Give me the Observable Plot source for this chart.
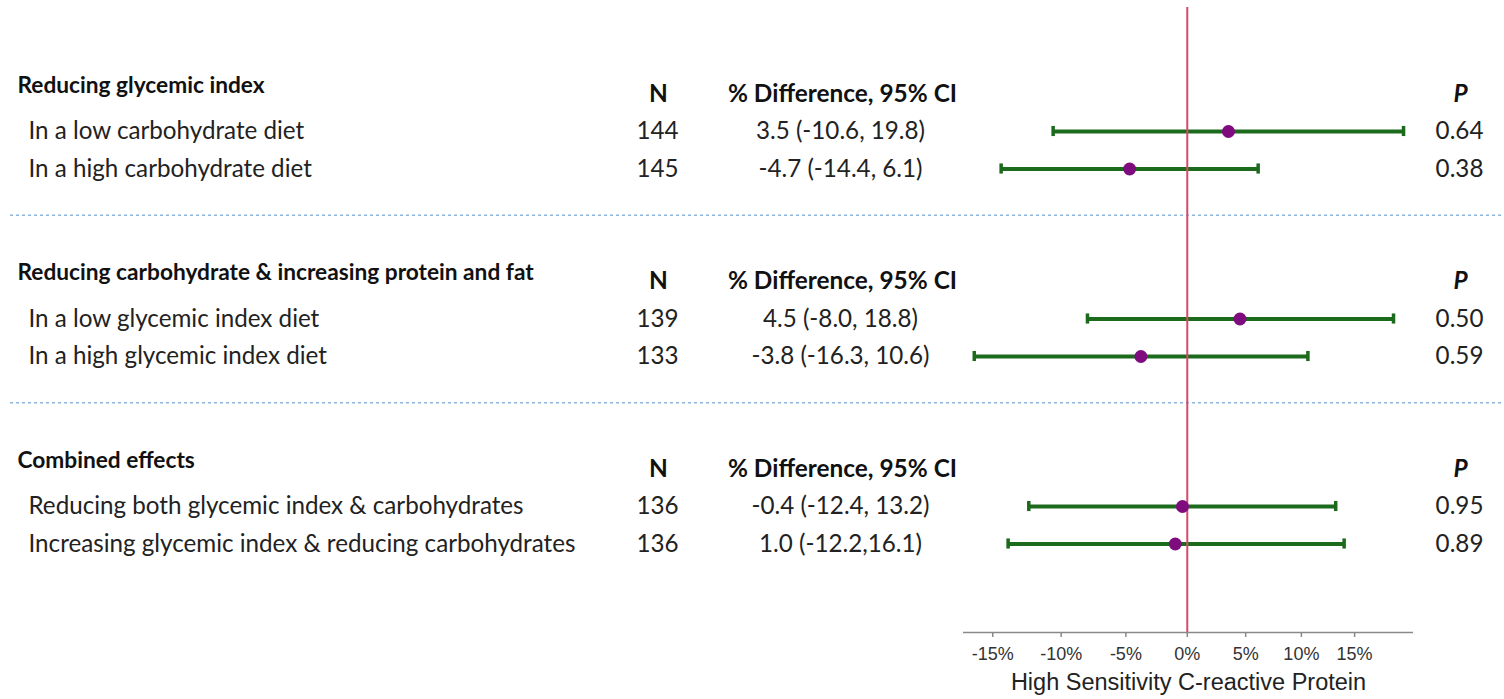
<!DOCTYPE html>
<html><head><meta charset="utf-8">
<script src="https://cdn.jsdelivr.net/npm/d3@7"></script>
<script src="https://cdn.jsdelivr.net/npm/@observablehq/plot@0.6"></script>
<style>html,body{margin:0;padding:0;background:#fff} svg{display:block}</style>
</head><body><div id="chart"></div>
<script>
// ---- data ----
const groupTitles = ["Reducing glycemic index", "Reducing carbohydrate & increasing protein and fat", "Combined effects"];
const rowLabels = [
  "In a low carbohydrate diet",
  "In a high carbohydrate diet",
  "In a low glycemic index diet",
  "In a high glycemic index diet",
  "Reducing both glycemic index & carbohydrates",
  "Increasing glycemic index & reducing carbohydrates"
];
const rowGroup = [0, 0, 1, 1, 2, 2];
const nValues = [144, 145, 139, 133, 136, 136];
const ciLabels = ["3.5 (-10.6, 19.8)", "-4.7 (-14.4, 6.1)", "4.5 (-8.0, 18.8)", "-3.8 (-16.3, 10.6)", "-0.4 (-12.4, 13.2)", "1.0 (-12.2,16.1)"];
const estimates = [3.5, -4.7, 4.5, -3.8, -0.4, -1.0];
const lowerCI = [-10.6, -14.4, -8.0, -16.3, -12.4, -13.9];
const upperCI = [19.8, 6.1, 18.8, 10.6, 13.2, 14.0];
const pValues = ["0.64", "0.38", "0.50", "0.59", "0.95", "0.89"];
const xTicks = [-15, -10, -5, 0, 5, 10, 15];
const xDomainPct = [-17.05, 20.8];
const headerN = "N", headerCI = "% Difference, 95% CI", headerP = "P";
const axisTitle = "High Sensitivity C-reactive Protein";

// ---- structure (line units) ----
const ratio = p => 1 + p / 100;
const seen = {};
const rows = rowLabels.map((label, i) => {
  const g = rowGroup[i];
  const k = (seen[g] = (seen[g] ?? -1) + 1);
  return {label, g, line: 5 * g + 1 + k, n: nValues[i], ci: ciLabels[i],
          est: estimates[i], lo: lowerCI[i], hi: upperCI[i], p: pValues[i]};
});
const groups = groupTitles.map((title, g) => ({title, g}));

const W = 1504, H = 699, mTop = 7, mBottom = 67, mLeft = 10;
const line0 = 93.5, lineH = 37.5;
const yDomain = [(mTop - line0) / lineH, (H - mBottom - line0) / lineH];
const xDomain = xDomainPct.map(ratio);

const bodyFont = "Lato, 'Open Sans', sans-serif";
const axisFont = "'Liberation Sans', Arial, sans-serif";
const green = "#1c6a1c", purple = "#7e0c7e", red = "#d44a6c";
const pctFormat = t => `${t}%`;
const cap = 0.135;

const chart = Plot.plot({
  width: W, height: H,
  marginTop: mTop, marginBottom: mBottom, marginLeft: mLeft, marginRight: 0,
  x: {type: "log", domain: xDomain, range: [963, 1413], axis: null},
  y: {domain: yDomain, reverse: true, axis: null},
  marks: [
    // separators
    Plot.ruleY(groups.slice(0, -1), {y: d => 5 * d.g + 3.23, stroke: "#8db6df", strokeWidth: 1.5, strokeDasharray: "3,3"}),
    // group titles
    Plot.text(groups, {y: d => 5 * d.g - 0.23, text: "title", frameAnchor: "left", dx: 7, textAnchor: "start",
      fontWeight: "bold", fontSize: 22.7, fontFamily: bodyFont, fill: "#111"}),
    // column headers
    Plot.text(groups, {y: d => 5 * d.g, text: () => headerN, frameAnchor: "left", dx: 648, textAnchor: "middle",
      fontWeight: "bold", fontSize: 24.4, fontFamily: bodyFont, fill: "#111"}),
    Plot.text(groups, {y: d => 5 * d.g, text: () => headerCI, frameAnchor: "left", dx: 832, textAnchor: "middle",
      fontWeight: "bold", fontSize: 24.4, fontFamily: bodyFont, fill: "#111"}),
    Plot.text(groups, {y: d => 5 * d.g, text: () => headerP, frameAnchor: "left", dx: 1450, textAnchor: "middle",
      fontWeight: "bold", fontStyle: "italic", fontSize: 24.4, fontFamily: bodyFont, fill: "#111"}),
    // row texts
    Plot.text(rows, {y: "line", text: "label", frameAnchor: "left", dx: 18, textAnchor: "start",
      fontSize: 24.2, fontFamily: bodyFont, fill: "#222"}),
    Plot.text(rows, {y: "line", text: "n", frameAnchor: "left", dx: 668, textAnchor: "end",
      fontSize: 24.2, fontFamily: bodyFont, fill: "#222"}),
    Plot.text(rows, {y: "line", text: "ci", frameAnchor: "left", dx: 830, textAnchor: "middle",
      fontSize: 24.2, fontFamily: bodyFont, fill: "#222"}),
    Plot.text(rows, {y: "line", text: "p", frameAnchor: "left", dx: 1449, textAnchor: "middle",
      fontSize: 24.2, fontFamily: bodyFont, fill: "#222"}),
    // confidence intervals
    Plot.ruleY(rows, {y: "line", x1: d => ratio(d.lo), x2: d => ratio(d.hi), stroke: green, strokeWidth: 4}),
    Plot.ruleX(rows, {x: d => ratio(d.lo), y1: d => d.line - cap, y2: d => d.line + cap, stroke: green, strokeWidth: 3.5}),
    Plot.ruleX(rows, {x: d => ratio(d.hi), y1: d => d.line - cap, y2: d => d.line + cap, stroke: green, strokeWidth: 3.5}),
    // zero reference line
    Plot.ruleX([ratio(0)], {stroke: red, strokeWidth: 2}),
    // estimates
    Plot.dot(rows, {x: d => ratio(d.est), y: "line", r: 6.5, fill: purple}),
    // axis line, ticks and labels
    Plot.ruleY([yDomain[1]], {x1: xDomain[0], x2: xDomain[1], stroke: "#8a8a8a", strokeWidth: 1.5}),
    Plot.ruleX(xTicks, {x: ratio, y1: yDomain[1], y2: yDomain[1] + 5 / lineH, stroke: "#8a8a8a", strokeWidth: 1.5}),
    Plot.text(xTicks, {x: ratio, text: pctFormat, frameAnchor: "bottom", dy: 27,
      fontSize: 18, fontFamily: axisFont, fill: "#333"}),
    Plot.text([axisTitle], {x: Math.sqrt(xDomain[0] * xDomain[1]), frameAnchor: "bottom", dy: 57,
      fontSize: 23.5, fontFamily: axisFont, fill: "#222"})
  ]
});
document.getElementById("chart").appendChild(chart);
</script>
</body></html>
